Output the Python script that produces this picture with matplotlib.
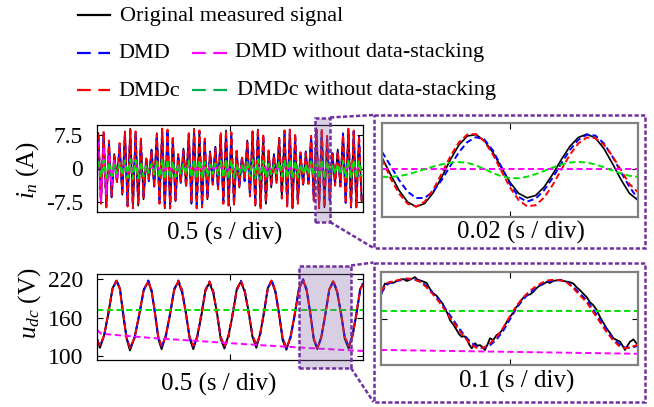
#!/usr/bin/env python3
import numpy as np
import matplotlib
matplotlib.use("Agg")
import matplotlib.pyplot as plt
import matplotlib.transforms as mtransforms
from matplotlib.patches import Rectangle

plt.rcParams.update({
    "font.family": ["Liberation Serif", "DejaVu Serif"],
    "mathtext.fontset": "custom",
    "mathtext.rm": "Liberation Serif",
    "mathtext.it": "Liberation Serif:italic",
    "font.size": 16,
    "axes.unicode_minus": False,
})

C_ORIG = "black"
C_DMD = "#0000ff"
C_DMDC = "#ff0000"
C_DMD_NS = "#ff00ff"
C_DMDC_NS = "#00e000"
PURPLE = "#7030a0"

# ---- i_n, full record: peak / trough of each 50 Hz cycle (A) ----
in_cycles = np.arange(50) * 0.02
in_orig_pk = [7.8, 8.0, 5.5, 3.2, 5.0, 8.2, 8.8, 7.6, 6.0, 2.2, 4.2, 7.8, 8.6, 8.2, 6.6, 2.8, 4.4, 7.6, 8.8, 8.0,
              6.0, 3.8, 4.8, 7.4, 8.4, 7.4, 3.6, 2.4, 6.2, 8.2, 8.6, 7.2, 3.6, 3.2, 6.8, 8.4, 8.2, 7.2, 3.2, 3.8,
              7.2, 8.8, 8.4, 6.6, 3.2, 4.2, 7.8, 8.6, 8.0, 6.8]
in_orig_tr = [-7.4, -8.4, -6.4, -2.8, -5.8, -8.0, -8.6, -8.2, -6.8, -2.6, -3.8, -7.4, -8.8, -8.6, -7.2, -3.2, -3.8,
              -7.8, -8.4, -8.4, -6.8, -3.2, -4.4, -7.6, -8.0, -8.0, -4.2, -2.6, -5.8, -8.2, -8.6, -7.8, -4.2, -2.8,
              -6.4, -8.0, -8.8, -7.6, -3.6, -3.4, -6.8, -8.4, -8.6, -7.2, -3.6, -3.8, -7.4, -8.4, -8.4, -7.2]
in_dmd_pk = [7.4, 7.6, 5.8, 3.0, 5.4, 7.8, 8.4, 7.8, 6.4, 2.4, 4.0, 7.4, 8.2, 8.4, 6.8, 3.0, 4.2, 7.4, 8.4, 8.2,
             6.4, 3.6, 4.6, 7.4, 8.0, 7.6, 3.8, 2.6, 5.8, 8.0, 8.4, 7.4, 3.8, 3.0, 6.4, 8.2, 8.4, 7.4, 3.4, 3.6,
             7.0, 8.4, 8.2, 6.8, 3.4, 4.0, 7.6, 8.4, 8.2, 7.0]
in_dmd_tr = [-7.6, -8.2, -6.2, -3.0, -5.6, -8.2, -8.4, -8.0, -6.6, -2.8, -4.0, -7.6, -8.6, -8.4, -7.0, -3.0, -4.0,
             -7.6, -8.6, -8.2, -6.6, -3.4, -4.6, -7.4, -8.2, -7.8, -4.0, -2.8, -6.0, -8.0, -8.4, -7.6, -4.0, -3.0,
             -6.6, -8.2, -8.6, -7.4, -3.4, -3.6, -7.0, -8.6, -8.4, -7.0, -3.4, -4.0, -7.6, -8.6, -8.2, -7.0]
in_dmdc_pk = [7.6, 8.2, 6.2, 2.8, 5.6, 8.0, 8.6, 8.2, 6.6, 2.6, 3.8, 7.6, 8.8, 8.6, 7.2, 3.2, 3.8, 7.8, 8.6, 8.4,
              6.6, 3.4, 4.4, 7.8, 8.4, 8.0, 4.2, 2.4, 6.0, 8.2, 8.8, 7.6, 4.0, 2.8, 6.6, 8.4, 8.6, 7.8, 3.6, 3.4,
              7.2, 8.6, 8.8, 7.2, 3.6, 3.8, 7.4, 8.8, 8.4, 7.2]
in_dmdc_tr = [-7.8, -8.6, -6.0, -3.2, -5.4, -8.4, -8.8, -8.0, -6.4, -2.4, -4.2, -7.8, -8.6, -8.8, -7.0, -2.8, -4.2,
              -7.6, -8.8, -8.6, -6.4, -3.6, -4.6, -7.8, -8.4, -8.2, -4.0, -2.4, -6.2, -8.4, -8.8, -7.4, -3.8, -3.2,
              -6.6, -8.4, -8.6, -7.8, -3.8, -3.4, -7.2, -8.8, -8.6, -7.0, -3.8, -4.0, -7.8, -8.6, -8.6, -7.4]
in_dmdns_pk = [6.0, 4.8, 3.2, 2.0, 1.3, 0.9, 0.7, 0.6, 0.5, 0.5, 0.4, 0.4, 0.4, 0.4, 0.4, 0.4, 0.4, 0.4, 0.4, 0.4,
               0.4, 0.4, 0.4, 0.4, 0.4, 0.4, 0.4, 0.4, 0.4, 0.4, 0.4, 0.4, 0.4, 0.4, 0.4, 0.4, 0.4, 0.4, 0.4, 0.4,
               0.4, 0.4, 0.4, 0.4, 0.4, 0.4, 0.4, 0.4, 0.4, 0.4]
in_dmdns_tr = [-7.2, -5.6, -3.8, -2.4, -1.5, -1.0, -0.7, -0.5, -0.4, -0.3, -0.3, -0.3, -0.3, -0.3, -0.3, -0.3,
               -0.3, -0.3, -0.3, -0.3, -0.3, -0.3, -0.3, -0.3, -0.3, -0.3, -0.3, -0.3, -0.3, -0.3, -0.3, -0.3,
               -0.3, -0.3, -0.3, -0.3, -0.3, -0.3, -0.3, -0.3, -0.3, -0.3, -0.3, -0.3, -0.3, -0.3, -0.3, -0.3,
               -0.3, -0.3]
in_dmdcns_pk = [1.6, 1.8, 1.4, 0.8, 1.2, 1.8, 2.0, 1.9, 1.5, 0.7, 1.0, 1.7, 2.1, 2.0, 1.6, 0.8, 1.0, 1.7, 2.0, 1.9,
                1.5, 0.9, 1.1, 1.7, 2.0, 1.8, 1.0, 0.7, 1.4, 1.9, 2.1, 1.7, 1.0, 0.8, 1.5, 1.9, 2.0, 1.7, 0.9, 0.9,
                1.6, 2.0, 2.0, 1.6, 0.9, 1.0, 1.7, 2.0, 1.9, 1.6]
in_dmdcns_tr = [-1.9, -2.1, -1.7, -1.1, -1.5, -2.1, -2.3, -2.2, -1.8, -1.0, -1.3, -2.0, -2.4, -2.3, -1.9, -1.1,
                -1.3, -2.0, -2.3, -2.2, -1.8, -1.2, -1.4, -2.0, -2.3, -2.1, -1.3, -1.0, -1.7, -2.2, -2.4, -2.0,
                -1.3, -1.1, -1.8, -2.2, -2.3, -2.0, -1.2, -1.2, -1.9, -2.3, -2.3, -1.9, -1.2, -1.3, -2.0, -2.3,
                -2.2, -1.9]

# ---- i_n, zoomed window (A), sampled every 1.5 ms ----
in_zoom_t = 0.82 + np.arange(31) * 0.0015
in_zoom_orig = [2.45, -1.16, -4.58, -7.08, -8.09, -7.39, -5.09, -1.72, 1.97, 5.14, 7.10, 7.41, 6.11, 3.55, 0.32,
                -2.84, -5.19, -6.19, -5.67, -3.85, -1.11, 2.0, 4.83, 6.79, 7.5, 6.69, 4.43, 1.21, -2.25, -5.22, -6.7]
in_zoom_dmd = [3.71, 0.72, -2.36, -4.86, -6.24, -6.20, -4.80, -2.34, 0.66, 3.58, 5.80, 6.85, 6.35, 4.0, 0.46,
               -3.23, -5.99, -7.0, -6.35, -4.54, -1.87, 1.17, 4.05, 6.26, 7.40, 7.21, 5.53, 2.71, -0.66, -3.82, -6.4]
in_zoom_dmdc = [2.2, -2.0, -5.27, -7.46, -8.08, -7.0, -4.43, -0.94, 2.71, 5.73, 7.45, 7.52, 5.95, 3.10, -0.45,
                -3.94, -6.65, -8.0, -7.77, -6.13, -3.42, -0.16, 3.02, 5.49, 6.78, 6.66, 5.25, 2.81, -0.2, -3.22, -5.0]
in_zoom_dmdcns = [-1.68, -1.69, -1.51, -1.14, -0.62, -0.04, 0.54, 1.02, 1.36, 1.50, 1.34, 0.80, 0.01, -0.85,
                  -1.56, -1.95, -1.96, -1.65, -1.10, -0.40, 0.33, 0.97, 1.40, 1.55, 1.40, 0.99, 0.38, -0.31,
                  -0.95, -1.44, -1.68]
in_zoom_ns_t = [0.82, 0.865]
in_zoom_dmdns = [0.1, 0.1]

# ---- u_dc, full record (V) ----
udc_t = [0, 0.011, 0.0268, 0.0425, 0.0583, 0.074, 0.0865, 0.099, 0.1115, 0.124, 0.1413, 0.1585, 0.1758, 0.193,
         0.2055, 0.218, 0.2305, 0.243, 0.2588, 0.2745, 0.2903, 0.306, 0.32, 0.334, 0.348, 0.362, 0.3773, 0.3925,
         0.4078, 0.423, 0.437, 0.451, 0.465, 0.479, 0.4945, 0.51, 0.5255, 0.541, 0.5555, 0.57, 0.5845, 0.599,
         0.6133, 0.6275, 0.6418, 0.656, 0.67, 0.684, 0.698, 0.712, 0.7278, 0.7435, 0.7593, 0.775, 0.7883,
         0.8015, 0.8148, 0.828, 0.843, 0.858, 0.873, 0.888, 0.9025, 0.917, 0.9315, 0.946, 0.9605, 0.975,
         0.9895, 1.0]
udc_orig = [128, 113, 133, 165, 206, 217, 205, 162, 127, 109, 130, 163, 204, 216, 200, 168, 127, 111, 133, 164,
            205, 216, 199, 169, 128, 111, 132, 163, 204, 214, 199, 168, 127, 112, 133, 164, 205, 216, 200, 170,
            130, 113, 135, 166, 206, 217, 201, 168, 125, 110, 131, 164, 206, 218, 202, 169, 126, 111, 130, 163,
            204, 216, 200, 168, 127, 112, 133, 164, 205, 212]
udc_dmd = [125, 116, 131.1, 167.5, 203.9, 219, 203.4, 165.8, 128.1, 112.5, 127.9, 165.3, 202.5, 218, 202.9,
           166.5, 130.1, 115, 130.1, 166.5, 202.9, 218, 202.9, 166.5, 130.1, 115, 129.9, 165.8, 201.6, 216.5,
           201.6, 165.8, 129.9, 115, 130.0, 166.3, 202.5, 217.5, 202.9, 167.5, 132.1, 117.5, 132.4, 168.3, 204.1,
           219, 203.4, 165.8, 128.1, 112.5, 128.3, 166.3, 204.2, 220, 204.2, 166.3, 128.3, 112.5, 127.9, 165,
           202.1, 217.5, 202.5, 166.3, 130.0, 115, 130.1, 166.5, 202.9, 214]
udc_dmdc = [124, 117, 132, 168, 204, 218, 203, 165, 128, 113, 128, 166, 203, 217, 202, 166, 130, 116, 131, 167,
            203, 217, 202, 166, 130, 116, 130, 166, 202, 216, 201, 165, 130, 116, 131, 167, 203, 217, 202, 167,
            132, 118, 133, 169, 204, 218, 203, 165, 128, 113, 129, 167, 205, 219, 204, 166, 128, 113, 128, 166,
            203, 217, 202, 166, 130, 116, 131, 167, 203, 214]
udc_dmdns_t = [0, 0.015, 0.04, 0.2, 0.4, 0.6, 0.8, 1.0]
udc_dmdns = [141, 135, 134, 128.5, 123, 117.5, 112.5, 108]
udc_dmdcns_t = [0, 1.0]
udc_dmdcns = [172, 172]

# ---- u_dc, zoomed window (V) ----
udc_zoom_orig_t = [0.7505, 0.7518, 0.7531, 0.7550, 0.7570, 0.7596, 0.7622, 0.7648, 0.7674, 0.7700,
                   0.7726, 0.7765, 0.7784, 0.7803, 0.7830, 0.7855, 0.7880, 0.7907, 0.7933, 0.7959,
                   0.7979, 0.7998, 0.8018, 0.8037, 0.8063, 0.8089, 0.8108, 0.8128, 0.8147, 0.8167,
                   0.8186, 0.8206, 0.8219, 0.8232, 0.8251, 0.8270, 0.8290, 0.8309, 0.8329, 0.8348,
                   0.8374, 0.8400, 0.8426, 0.8452, 0.8478, 0.8504, 0.8523, 0.8543, 0.8562, 0.8582,
                   0.8608, 0.8634, 0.8660, 0.8685, 0.8711, 0.8737, 0.8763, 0.8789, 0.8815, 0.8841,
                   0.8867, 0.8893, 0.8919, 0.8945, 0.8971, 0.8997, 0.9023, 0.9049, 0.9075, 0.9100,
                   0.9126, 0.9152, 0.9178, 0.9204, 0.9230, 0.9256, 0.9282, 0.9308, 0.9334, 0.9360,
                   0.9380, 0.9399, 0.9418, 0.9438, 0.9451, 0.9464, 0.9483, 0.9503]
udc_zoom_orig = [199.5, 209, 215, 214, 217.5, 216, 219, 221, 222, 219,
                 221, 225, 221, 220, 218, 216, 207, 199.5, 196, 189,
                 184, 176, 168, 158, 151, 142.5, 136, 132, 133, 129.6,
                 120, 114, 118, 122, 118, 119, 116, 111.4, 120, 129.6,
                 127, 134.7, 138, 145, 155, 163, 168, 176, 180, 186.5,
                 193, 197, 198, 202, 208, 212, 214, 217.5, 216, 219,
                 220, 221, 219, 218, 217, 215, 209, 204.6, 199, 194,
                 186, 181.3, 174, 163, 154, 145, 138, 129.6, 127, 124.4,
                 118, 111.4, 118, 124.4, 126, 128, 123, 119]
udc_zoom_t = 0.75 + np.arange(41) * 0.005
udc_zoom_dmd = [200, 214, 218, 220, 222, 222, 219, 212, 201, 190, 176, 162, 147, 134, 123, 116, 114, 119, 128, 141,
                158, 175, 189, 199, 207, 214, 218, 220, 220, 217, 209, 199, 189, 175, 160, 145, 131, 121, 115, 115,
                118]
udc_zoom_dmdc = [203, 216, 219, 221, 223, 222, 218, 210, 199, 187, 173, 158, 144, 131, 120, 114, 115, 122, 132,
                 146, 163, 179, 192, 202, 210, 216, 220, 221, 220, 216, 207, 196, 186, 171, 156, 141, 128, 118, 114,
                 116, 120]
udc_zoom_ns_t = [0.75, 0.95]
udc_zoom_dmdns = [111.5, 105.5]
udc_zoom_dmdcns = [172, 172]

# zoom windows marked on the full records
win_in = (0.8195, 0.876)
win_udc = (0.759, 0.955)

W, H = 654, 407
fig = plt.figure(figsize=(W / 100, H / 100), dpi=100)


def px_axes(x0, y0, x1, y1):
    return fig.add_axes([x0 / W, 1 - y1 / H, (x1 - x0) / W, (y1 - y0) / H])


def zigzag(t0, pk, tr):
    t = np.ravel(np.column_stack([t0 + 0.005, t0 + 0.015]))
    v = np.ravel(np.column_stack([pk, tr]))
    return t, v


DASH = dict(dashes=(3.2, 1.8), lw=1.4)


def style(ax, frame="black", flw=0.9):
    ax.tick_params(direction="in", top=True, right=True, length=4, width=0.8,
                   labelsize=17, pad=10)
    for s in ax.spines.values():
        s.set_color(frame)
        s.set_linewidth(flw)


# top-left: i_n full
ax1 = px_axes(97, 125, 363, 212)
t, v = zigzag(in_cycles, in_orig_pk, in_orig_tr)
ax1.plot(t, v, color=C_ORIG, lw=1.2)
t, v = zigzag(in_cycles, in_dmd_pk, in_dmd_tr)
ax1.plot(t, v, color=C_DMD, **DASH)
t, v = zigzag(in_cycles, in_dmdc_pk, in_dmdc_tr)
ax1.plot(t, v, color=C_DMDC, **DASH)
t, v = zigzag(in_cycles, in_dmdns_pk, in_dmdns_tr)
ax1.plot(t, v, color=C_DMD_NS, **DASH)
t, v = zigzag(in_cycles, in_dmdcns_pk, in_dmdcns_tr)
ax1.plot(t, v, color=C_DMDC_NS, **DASH)
ax1.set_xlim(0, 1)
ax1.set_ylim(-9.6, 9.6)
ax1.set_xticks([0.5])
ax1.set_xticklabels([])
ax1.set_yticks([-7.5, 0, 7.5])
ax1.set_yticklabels(["-7.5", "0", "7.5"])
style(ax1)

# top-right: i_n zoom
ax2 = px_axes(382, 123, 638, 217)
ax2.plot(in_zoom_t, in_zoom_orig, color=C_ORIG, lw=1.2)
ax2.plot(in_zoom_t, in_zoom_dmd, color=C_DMD, **DASH)
ax2.plot(in_zoom_t, in_zoom_dmdc, color=C_DMDC, **DASH)
ax2.plot(in_zoom_ns_t, in_zoom_dmdns, color=C_DMD_NS, **DASH)
ax2.plot(in_zoom_t, in_zoom_dmdcns, color=C_DMDC_NS, **DASH)
ax2.set_xlim(0.82, 0.865)
ax2.set_ylim(-10.3, 9.9)
ax2.set_xticks([0.8425])
ax2.set_yticks([0])
ax2.set_xticklabels([])
ax2.set_yticklabels([])
style(ax2, frame="#808080", flw=1.6)

# bottom-left: u_dc full
ax3 = px_axes(97, 274, 363, 360)
ax3.plot(udc_t, udc_orig, color=C_ORIG, lw=1.4)
ax3.plot(udc_t, udc_dmd, color=C_DMD, **DASH)
ax3.plot(udc_t, udc_dmdc, color=C_DMDC, **DASH)
ax3.plot(udc_dmdns_t, udc_dmdns, color=C_DMD_NS, **DASH)
ax3.plot(udc_dmdcns_t, udc_dmdcns, color=C_DMDC_NS, **DASH)
ax3.set_xlim(0, 1)
ax3.set_ylim(94, 228)
ax3.set_xticks([0.5])
ax3.set_xticklabels([])
ax3.set_yticks([100, 160, 220])
style(ax3)

# bottom-right: u_dc zoom
ax4 = px_axes(381, 272, 638, 365)
ax4.plot(udc_zoom_orig_t, udc_zoom_orig, color=C_ORIG, lw=1.3)
ax4.plot(udc_zoom_t, udc_zoom_dmd, color=C_DMD, **DASH)
ax4.plot(udc_zoom_t, udc_zoom_dmdc, color=C_DMDC, **DASH)
ax4.plot(udc_zoom_ns_t, udc_zoom_dmdns, color=C_DMD_NS, **DASH)
ax4.plot(udc_zoom_ns_t, udc_zoom_dmdcns, color=C_DMDC_NS, **DASH)
ax4.set_xlim(0.75, 0.95)
ax4.set_ylim(88, 233)
ax4.set_xticks([0.85])
ax4.set_yticks([160])
ax4.set_xticklabels([])
ax4.set_yticklabels([])
style(ax4, frame="#808080", flw=1.6)

# shaded zoom windows
DOT = (0, (1.7, 0.9))
for ax, (a, b), y0, hh in [(ax1, win_in, -0.115, 1.2), (ax3, win_udc, -0.093, 1.19)]:
    tr = mtransforms.blended_transform_factory(ax.transData, ax.transAxes)
    ax.add_patch(Rectangle((a, y0), b - a, hh, transform=tr,
                           facecolor=(0.50, 0.39, 0.64, 0.30), edgecolor=PURPLE,
                           lw=1.8, ls=DOT, clip_on=False, zorder=6))

# axis labels
fig.text(28 / W, 1 - 170 / H, r"$i_n$ (A)", rotation=90, ha="center", va="center", fontsize=18)
fig.text(30 / W, 1 - 303 / H, r"$u_{dc}$ (V)", rotation=90, ha="center", va="center", fontsize=18)
fig.text(225 / W, 1 - 233 / H, "0.5 (s / div)", ha="center", va="center", fontsize=18)
fig.text(219 / W, 1 - 384 / H, "0.5 (s / div)", ha="center", va="center", fontsize=18)
fig.text(521 / W, 1 - 232 / H, "0.02 (s / div)", ha="center", va="center", fontsize=18)
fig.text(517 / W, 1 - 381 / H, "0.1 (s / div)", ha="center", va="center", fontsize=18)

# overlay in pixel units: legend, zoom boxes and connectors
ov = fig.add_axes([0, 0, 1, 1])
ov.set_xlim(0, W)
ov.set_ylim(H, 0)
ov.axis("off")
ov.patch.set_visible(False)

ov.add_patch(Rectangle((373.5, 115), 645 - 373.5, 248 - 115, fill=False,
                       edgecolor=PURPLE, lw=1.8, ls=DOT))
ov.add_patch(Rectangle((373.5, 262.5), 645 - 373.5, 402 - 262.5, fill=False,
                       edgecolor=PURPLE, lw=1.8, ls=DOT))
for xs, ys in [([330, 373.5], [117.5, 115]), ([330, 373.5], [222, 248]),
               ([351, 373.5], [265.5, 262.5]), ([351, 373.5], [368, 402])]:
    ov.plot(xs, ys, color=PURPLE, lw=1.8, ls=DOT)

LEG_DASH = dict(dashes=(6.2, 3.4), lw=1.6)
ov.plot([78, 110], [15, 15], color=C_ORIG, lw=1.6)
ov.text(120, 16, "Original measured signal", ha="left", va="center", fontsize=16)
ov.plot([77, 110], [53, 53], color=C_DMD, **LEG_DASH)
ov.text(118, 54, "DMD", ha="left", va="center", fontsize=16)
ov.plot([77, 110], [90, 90], color=C_DMDC, **LEG_DASH)
ov.text(118, 91, "DMDc", ha="left", va="center", fontsize=16)
ov.plot([192, 227], [53, 53], color=C_DMD_NS, **LEG_DASH)
ov.text(235, 53, "DMD without data-stacking", ha="left", va="center", fontsize=16)
ov.plot([192, 227], [90, 90], color="#00b050", **LEG_DASH)
ov.text(237, 90, "DMDc without data-stacking", ha="left", va="center", fontsize=16)

fig.savefig("out.png", dpi=100)
